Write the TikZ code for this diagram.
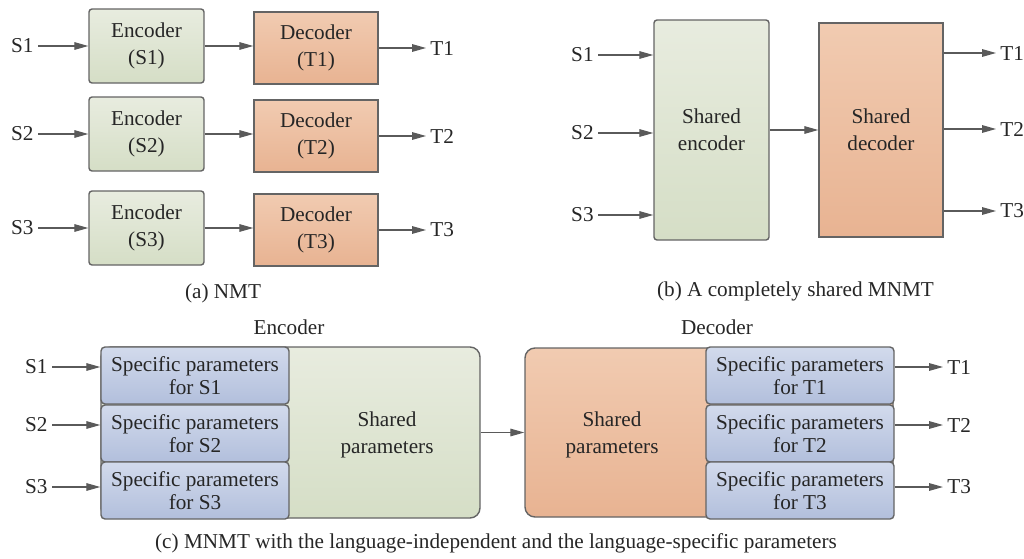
\documentclass[tikz,border=0pt]{standalone}
\usepackage{fontspec}
\setmainfont{Liberation Serif}
\usetikzlibrary{arrows.meta}

\definecolor{encTop}{HTML}{E8ECDF}
\definecolor{encBot}{HTML}{D5DEC6}
\definecolor{decTop}{HTML}{F1CBB1}
\definecolor{decBot}{HTML}{E8B392}
\definecolor{specTop}{HTML}{D2DAEC}
\definecolor{specBot}{HTML}{B2BFDC}
\definecolor{boxLine}{HTML}{646464}
\definecolor{arrowGray}{HTML}{5A5A5A}
\definecolor{inkGray}{HTML}{262626}

\begin{document}
\begin{tikzpicture}[x=0.5pt, y=-0.5pt,
        font=\fontsize{10.6}{12.5}\selectfont, text=inkGray,
        >={Triangle[length=7pt, width=3.8pt]}]
        \tikzset{box/.style = {draw = boxLine,
            line width = 0.7pt,
            align      = center,
            inner sep  = 0pt,
            font       = \fontsize{10.6}{13.4}\selectfont},
          encbox/.style  = {box, top color=encTop, bottom color=encBot, rounded corners=1.5pt},
          decbox/.style  = {box, top color=decTop, bottom color=decBot},
          specbox/.style = {box, top color=specTop, bottom color=specBot, rounded corners=2pt,
            minimum width=94pt, minimum height=28.5pt,
            font=\fontsize{10.6}{11.6}\selectfont},
          lbl/.style     = {inner sep=2pt},
          flow/.style    = {->, draw=arrowGray, line width=0.6pt}}
        \useasboundingbox (0,0) rectangle (1024,558);

        % (a) NMT
        \foreach \i/\y in {1/46,2/134,3/228}{
          \node[encbox, minimum width=57.5pt, minimum height=37pt] (encA\i) at (146.5,\y) {Encoder\\(S\i)};
          \node[decbox, minimum width=62pt, minimum height=36pt] (decA\i) at (316,\y+2) {Decoder\\(T\i)};
          \node[lbl, anchor=east] (sA\i) at (38,\y) {S\i};
          \node[lbl, anchor=west] (tA\i) at (426,\y+2) {T\i};
          \draw[flow] (sA\i) -- (encA\i);
          \draw[flow] (encA\i.east) -- (encA\i.east -| decA\i.west);
          \draw[flow] (decA\i) -- (tA\i);
        }
        \node (capA) at (223,293) {(a) NMT};

        % (b) completely shared
        \node[encbox, minimum width=57.5pt, minimum height=110pt] (encB) at (711.5,130) {Shared\\encoder};
        \node[decbox, minimum width=62pt, minimum height=107pt] (decB) at (881,130) {Shared\\decoder};
        \draw[flow] (encB) -- (decB);
        \foreach \i/\ys/\yt in {1/55/53,2/133/129,3/215/211}{
          \node[lbl, anchor=east] (sB\i) at (598,\ys) {S\i};
          \node[lbl, anchor=west] (tB\i) at (996,\yt) {T\i};
          \draw[flow] (sB\i.east) -- (sB\i.east -| encB.west);
          \draw[flow] (tB\i.west -| decB.east) -- (tB\i.west);
        }
        \node (capB) at (795.5,291) {(b) A completely shared MNMT};

        % (c) shared + specific parameters
        \node (encHead) at (289,327) {Encoder};
        \node (decHead) at (717,327) {Decoder};
        \node[box, rounded corners=5pt, top color=encTop, bottom color=encBot,
          minimum width=189.5pt, minimum height=85.5pt] (encAll) at (290.5,432.5) {};
        \node[box, rounded corners=5pt, top color=decTop, bottom color=decBot,
          minimum width=184pt, minimum height=84.5pt] (decAll) at (709,432.5) {};
        \node[align=center, font=\fontsize{10.6}{13.4}\selectfont] (encShared) at (387,435) {Shared\\parameters};
        \node[align=center, font=\fontsize{10.6}{13.4}\selectfont] (decShared) at (612,435) {Shared\\parameters};
        \draw[flow] (encAll) -- (decAll);
        \foreach \i/\y/\ya in {1/375.5/367,2/433.5/425,3/490.5/487}{
          \node[specbox] (encSp\i) at (195,\y) {Specific parameters\\for S\i};
          \node[specbox] (decSp\i) at (800,\y) {Specific parameters\\for T\i};
          \node[lbl, anchor=east] (sC\i) at (52,\ya) {S\i};
          \node[lbl, anchor=west] (tC\i) at (943,\ya) {T\i};
          \draw[flow] (sC\i.east) -- (sC\i.east -| encSp\i.west);
          \draw[flow] (tC\i.west -| decSp\i.east) -- (tC\i.west);
        }
        \node (capC) at (496,543) {(c) MNMT with the language-independent and the language-specific parameters};
      \end{tikzpicture}
\end{document}
